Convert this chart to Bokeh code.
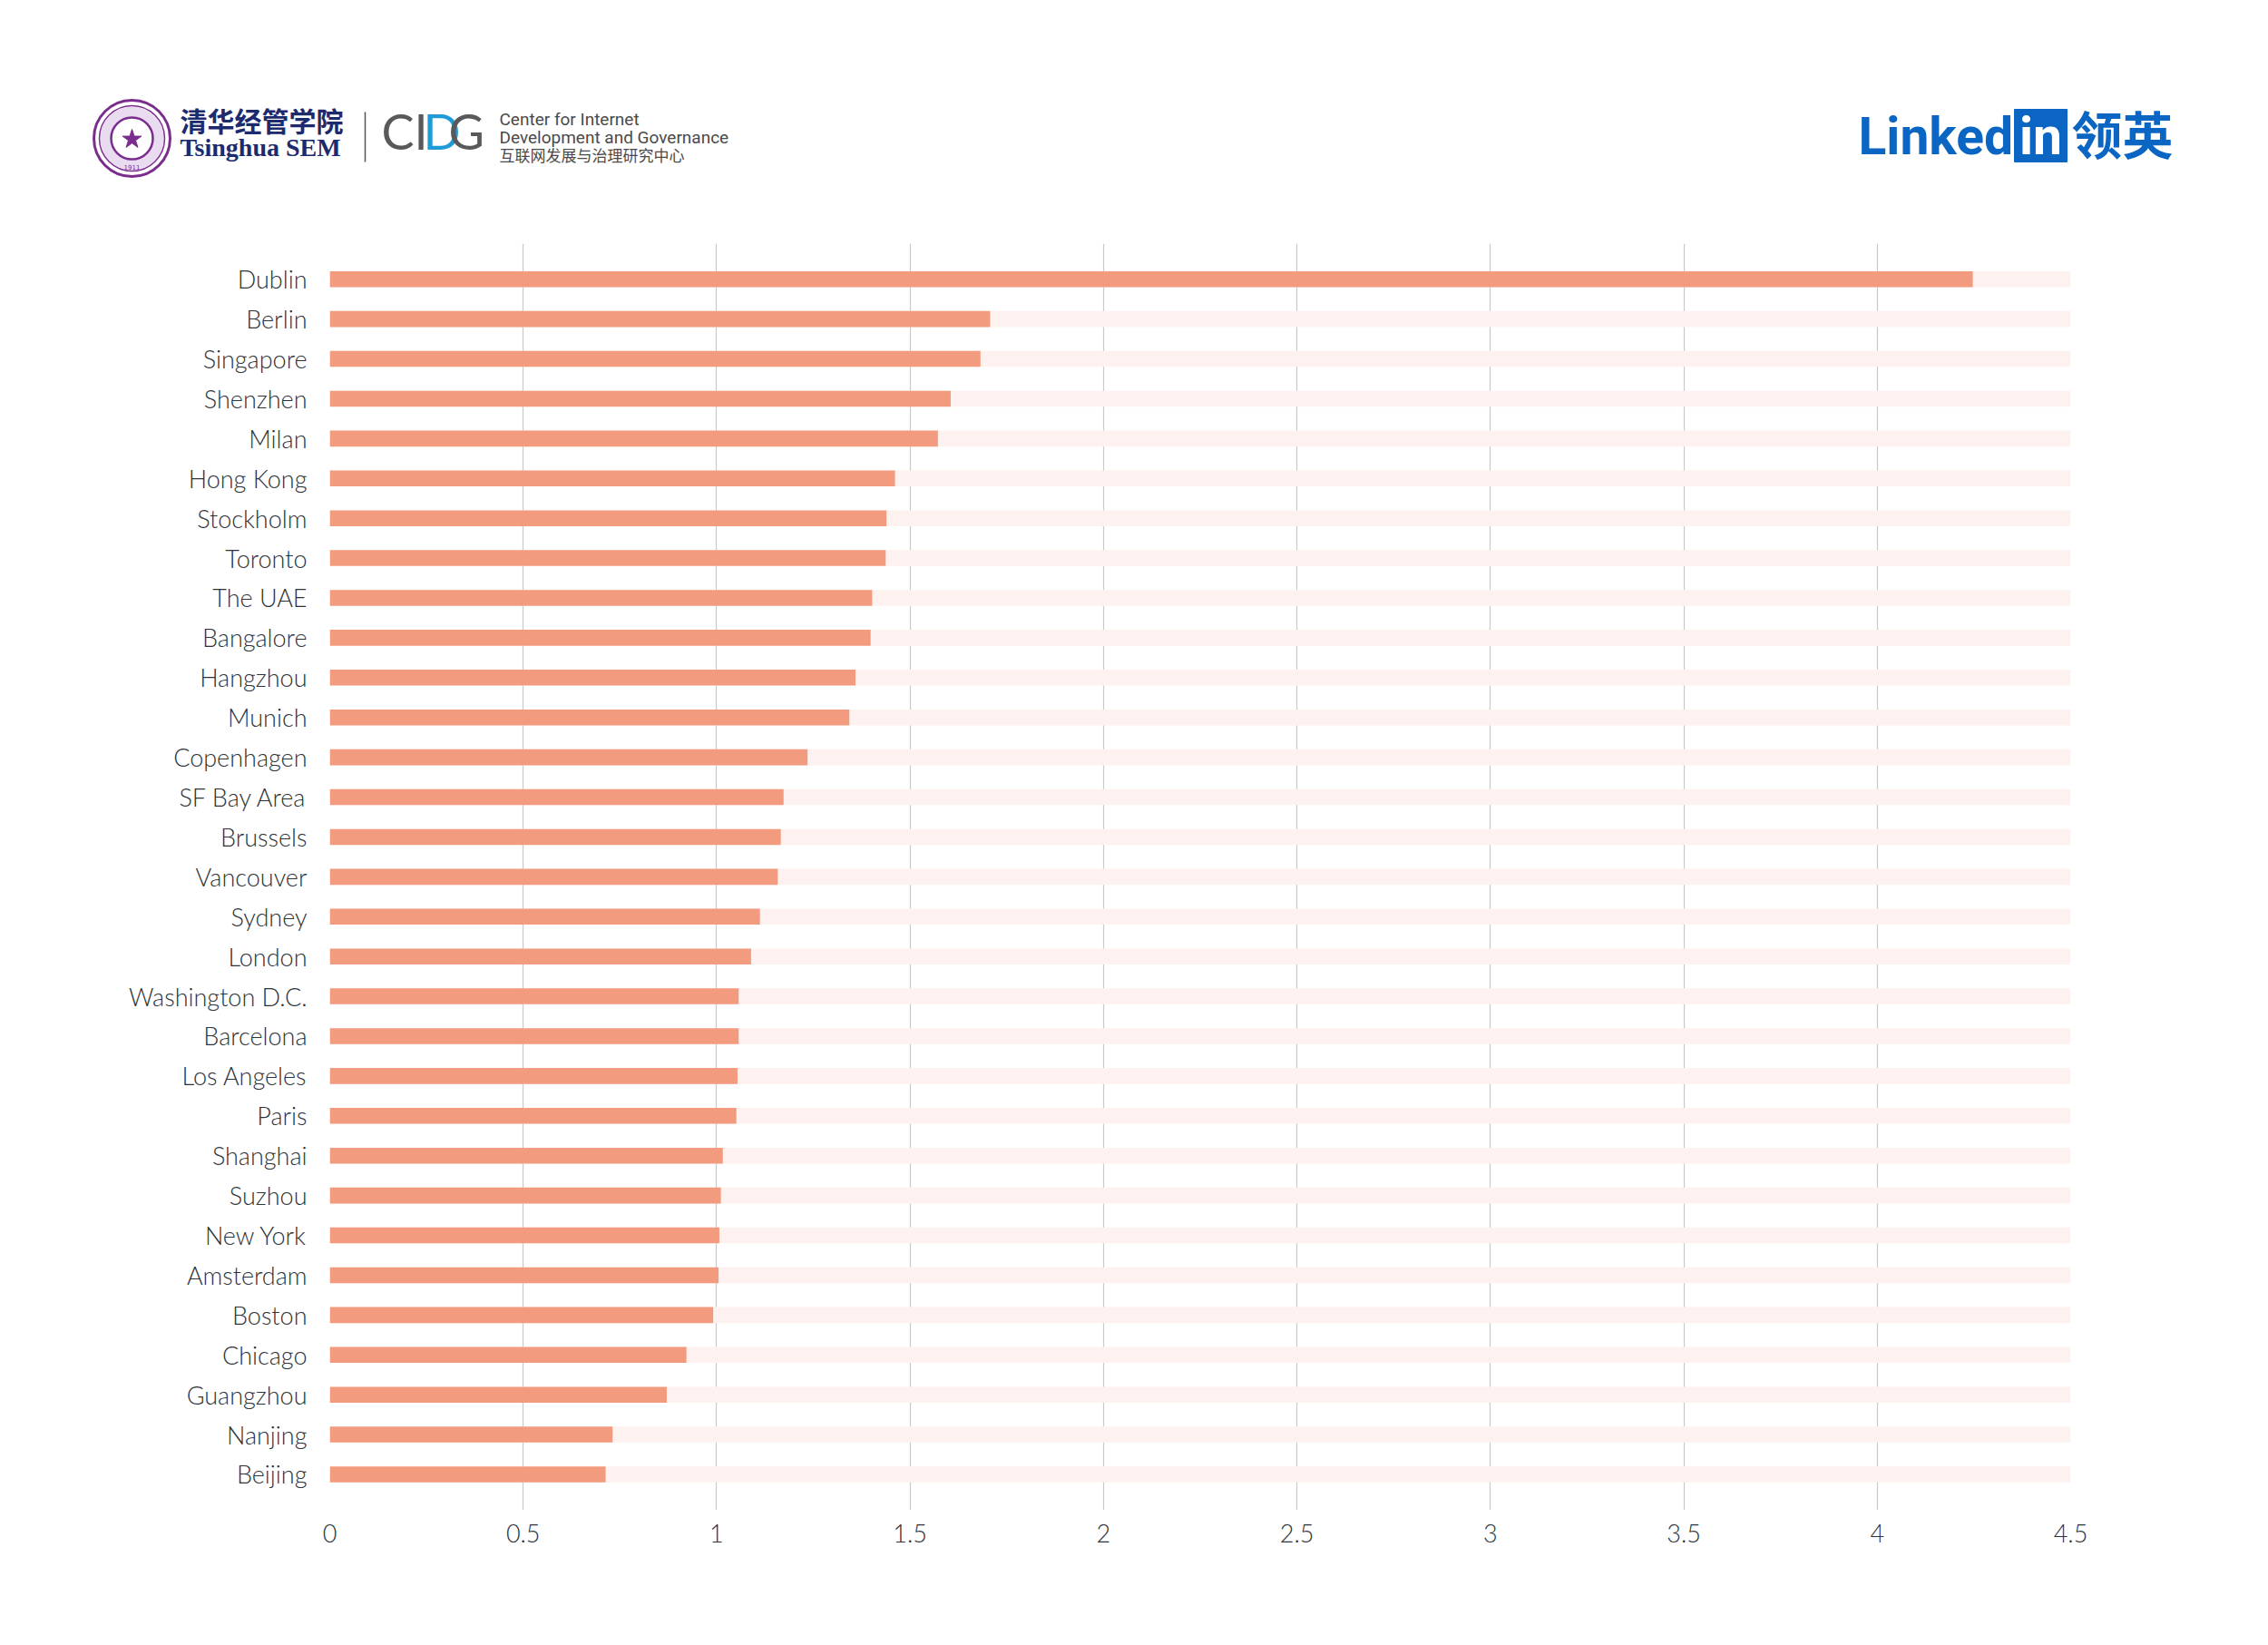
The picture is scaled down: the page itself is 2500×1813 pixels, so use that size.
from bokeh.plotting import figure
from bokeh.layouts import column
from bokeh.models import Range1d, FixedTicker, ColumnDataSource
from bokeh.core.properties import value
from bokeh.embed import file_html
from bokeh.resources import INLINE

# ---------------- data ----------------
cities = [
    "Dublin", "Berlin", "Singapore", "Shenzhen", "Milan", "Hong Kong",
    "Stockholm", "Toronto", "The UAE", "Bangalore", "Hangzhou", "Munich",
    "Copenhagen", "SF Bay Area", "Brussels", "Vancouver", "Sydney", "London",
    "Washington D.C.", "Barcelona", "Los Angeles", "Paris", "Shanghai",
    "Suzhou", "New York", "Amsterdam", "Boston", "Chicago", "Guangzhou",
    "Nanjing", "Beijing",
]
scores = [
    4.247, 1.707, 1.682, 1.605, 1.572, 1.461,
    1.439, 1.437, 1.402, 1.398, 1.359, 1.343,
    1.235, 1.173, 1.166, 1.158, 1.112, 1.089,
    1.057, 1.057, 1.054, 1.051, 1.016,
    1.011, 1.007, 1.005, 0.991, 0.922, 0.871,
    0.731, 0.713,
]
x_ticks = [0, 0.5, 1, 1.5, 2, 2.5, 3, 3.5, 4, 4.5]
x_tick_labels = ["0", "0.5", "1", "1.5", "2", "2.5", "3", "3.5", "4", "4.5"]
x_max = 4.5

# ---------------- styles ----------------
BAR = "#f39b7e"
TRACK = "#fdf2ef"
GRID = "#c9c9c9"
TEXT = "#2e333a"
W = 2500
HEADER_H = 268
CHART_H = 1813 - HEADER_H
FONT = "'Lato Light', Lato"

n = len(cities)
ypos = [n - 1 - i for i in range(n)]
src = ColumnDataSource(dict(y=ypos, city=cities, score=scores, track=[x_max] * n))

# ---------------- header (logos) ----------------
hdr = figure(width=W, height=HEADER_H, x_range=Range1d(0, W), y_range=Range1d(HEADER_H, 0),
             output_backend="svg", toolbar_location=None, x_axis_type=None, y_axis_type=None,
             min_border=0)
hdr.frame_align = False
hdr.outline_line_color = None
hdr.background_fill_color = "white"

PURPLE = "#7b2d8e"
SX, SY = 145, 152
hdr.annulus(x=SX, y=SY, inner_radius=23, outer_radius=35, fill_color="#eadcf0", line_color=None)
hdr.circle(x=SX, y=SY, radius=42, fill_color=None, line_color=PURPLE, line_width=3)
hdr.circle(x=SX, y=SY, radius=36, fill_color=None, line_color=PURPLE, line_width=1.5)
hdr.circle(x=SX, y=SY, radius=23, fill_color=None, line_color=PURPLE, line_width=2.5)
hdr.scatter(x=SX, y=SY + 1, marker="star", size=22, fill_color=PURPLE, line_color=PURPLE)
hdr.text(x=[SX], y=[SY + 31], text=["1911"], text_font=value("DejaVu Sans"), text_font_size="7px",
         text_color=PURPLE, text_align="center", text_baseline="middle")

NAVY = "#1c2b6e"
hdr.text(x=[198], y=[131], text=["清华经管学院"], text_font=value("Noto Sans CJK SC"),
         text_font_style="bold", text_font_size="30px", text_color=NAVY,
         text_align="left", text_baseline="middle")
hdr.text(x=[198], y=[162], text=["Tsinghua SEM"], text_font=value("Liberation Serif"),
         text_font_style="bold", text_font_size="28px", text_color=NAVY,
         text_align="left", text_baseline="middle")
hdr.segment(x0=[402], y0=[123], x1=[402], y1=[178], line_color="#555555", line_width=1.5)

GRAY = "#58595b"
CBLUE = "#1f9bd7"
hdr.text(x=[420], y=[144], text=["CI"], text_font=value("Lato"), text_font_size="54px",
         text_color=GRAY, text_align="left", text_baseline="middle")
hdr.text(x=[466], y=[144], text=["D"], text_font=value("Lato"), text_font_size="54px",
         text_color=CBLUE, text_align="left", text_baseline="middle")
hdr.text(x=[494], y=[144], text=["G"], text_font=value("Lato"), text_font_size="54px",
         text_color=GRAY, text_align="left", text_baseline="middle")
hdr.text(x=[550, 550], y=[131, 151], text=["Center for Internet", "Development and Governance"],
         text_font=value("Roboto"), text_font_size="19px", text_color="#4a4a4a",
         text_align="left", text_baseline="middle")
hdr.text(x=[550], y=[170], text=["互联网发展与治理研究中心"], text_font=value("Noto Sans CJK SC"),
         text_font_size="17px", text_color="#4a4a4a", text_align="left", text_baseline="middle")

LBLUE = "#0a66c2"
hdr.text(x=[2048], y=[150], text=["Linked"], text_font=value("Roboto"), text_font_style="bold",
         text_font_size="57px", text_color=LBLUE, text_align="left", text_baseline="middle")
hdr.rect(x=2249, y=149, width=58, height=58, fill_color=LBLUE, line_color=LBLUE)
hdr.text(x=[2249], y=[150], text=["in"], text_font=value("Roboto"), text_font_style="bold",
         text_font_size="57px", text_color="white", text_align="center", text_baseline="middle")
hdr.text(x=[2283], y=[145], text=["领英"], text_font=value("Noto Sans CJK SC"), text_font_style="bold",
         text_font_size="56px", text_color=LBLUE, text_align="left", text_baseline="middle")

# ---------------- chart ----------------
p = figure(width=W, height=CHART_H,
           x_range=Range1d(0, x_max), y_range=Range1d(-0.9, n - 1 + 0.893),
           output_backend="svg", toolbar_location=None,
           min_border_left=363, min_border_right=W - 2282, min_border_top=0,
           min_border_bottom=CHART_H - 1396)
p.frame_align = False
p.outline_line_color = None
p.background_fill_color = "white"

p.hbar(y="y", left=0, right="track", height=0.4, source=src, fill_color=TRACK, line_color=None)
p.hbar(y="y", left=0, right="score", height=0.4, source=src, fill_color=BAR, line_color=None)

p.xaxis.ticker = FixedTicker(ticks=x_ticks)
p.xaxis.major_label_overrides = {t: l for t, l in zip(x_ticks, x_tick_labels)}
p.yaxis.ticker = FixedTicker(ticks=ypos)
p.yaxis.major_label_overrides = {y: c for y, c in zip(ypos, cities)}

for ax in (p.xaxis[0], p.yaxis[0]):
    ax.axis_line_color = None
    ax.major_tick_line_color = None
    ax.minor_tick_line_color = None
    ax.major_tick_out = 0
    ax.major_tick_in = 0
    ax.minor_tick_out = 0
    ax.major_label_text_font = FONT
    ax.major_label_text_color = TEXT

p.yaxis.major_label_text_font_size = "27px"
p.xaxis.major_label_text_font_size = "27px"
p.yaxis.major_label_standoff = 25
p.xaxis.major_label_standoff = 15

p.xgrid.grid_line_color = GRID
p.xgrid.grid_line_width = 1.2
p.ygrid.grid_line_color = None

layout = column(hdr, p, spacing=0)
open("out.html", "w").write(file_html(layout, INLINE))
